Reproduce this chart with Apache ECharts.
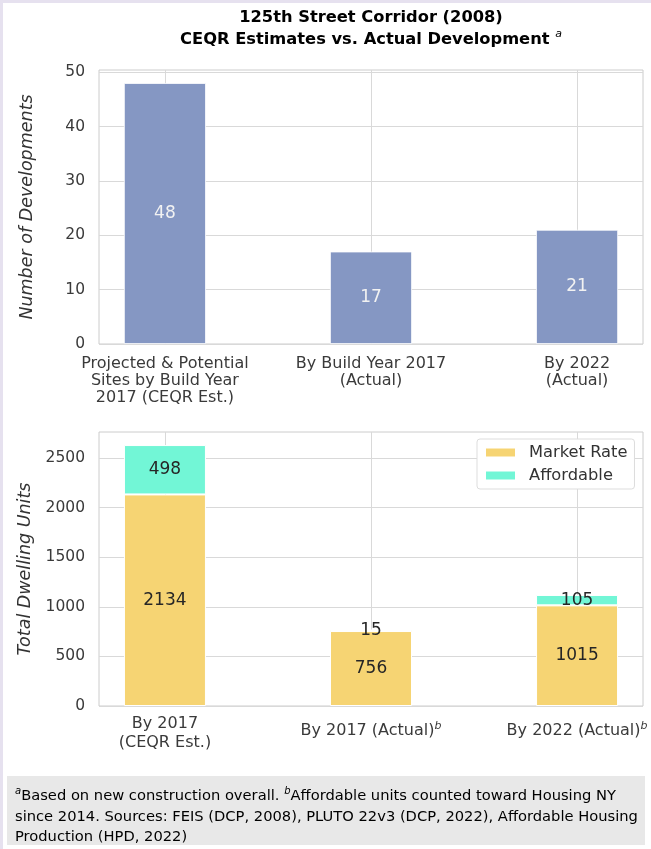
<!DOCTYPE html>
<html>
<head>
<meta charset="utf-8">
<script src="https://cdn.jsdelivr.net/npm/echarts@6/dist/echarts.min.js"></script>
<style>
  html, body { margin: 0; padding: 0; background: #fff; }
  #chart { width: 651px; height: 849px; }
</style>
</head>
<body>
<div id="chart"></div>
<script>
// 上图：开发项目数量
var devCategories = ['Projected & Potential\nSites by Build Year\n2017 (CEQR Est.)', 'By Build Year 2017\n(Actual)', 'By 2022\n(Actual)'];
var devCounts = [48, 17, 21];
var devTicks = [0, 10, 20, 30, 40, 50];

// 下图：住宅单元
var unitCategories = ['By 2017\n(CEQR Est.)', 'By 2017 (Actual)', 'By 2022 (Actual)'];
var unitCategorySup = ['', 'b', 'b'];
var marketRate = [2134, 756, 1015];
var affordable = [498, 15, 105];
var unitTicks = [0, 500, 1000, 1500, 2000, 2500];

var FONT = 'DejaVu Sans';
var positions = [0, 1, 2];

// 值在前、位置在后（堆叠作用在第一维）
function pairs(vals) {
  return vals.map(function (v, i) { return [v, positions[i]]; });
}

var xCommon = {
  type: 'value',
  min: -0.32,
  max: 2.32,
  axisLine: { show: false },
  axisTick: { show: false, customValues: positions },
  splitLine: { show: true, lineStyle: { color: '#d9d9d9', width: 1 } }
};

var option = {
  animation: false,
  backgroundColor: '#fff',
  textStyle: { fontFamily: FONT },
  grid: [
    { left: 99, right: 8, top: 70, height: 274, show: true, borderColor: '#cccccc', borderWidth: 1, backgroundColor: '#fff' },
    { left: 99, right: 8, top: 432, height: 274, show: true, borderColor: '#cccccc', borderWidth: 1, backgroundColor: '#fff' }
  ],
  xAxis: [
    Object.assign({}, xCommon, {
      gridIndex: 0,
      axisLabel: {
        customValues: positions,
        margin: 11,
        color: '#3a3a3a',
        fontSize: 16,
        lineHeight: 17,
        fontFamily: FONT,
        formatter: function (v) { return devCategories[Math.round(v)]; }
      }
    }),
    Object.assign({}, xCommon, {
      gridIndex: 1,
      axisLabel: {
        customValues: positions,
        margin: 8,
        color: '#3a3a3a',
        fontSize: 16,
        lineHeight: 19,
        fontFamily: FONT,
        formatter: function (v) {
          var i = Math.round(v);
          if (!unitCategorySup[i]) return unitCategories[i];
          return '{p|' + unitCategories[i] + '}{sup|' + unitCategorySup[i] + '}';
        },
        rich: {
          p: { fontSize: 16, color: '#3a3a3a', lineHeight: 34, verticalAlign: 'middle', fontFamily: FONT },
          sup: { fontSize: 11, color: '#3a3a3a', fontStyle: 'italic', lineHeight: 12, padding: [7, 0, 0, 0], verticalAlign: 'top', fontFamily: FONT }
        }
      }
    })
  ],
  yAxis: [
    {
      type: 'value', gridIndex: 0, min: 0, max: 50.4,
      name: 'Number of Developments', nameLocation: 'middle', nameGap: 63,
      nameTextStyle: { fontSize: 17.5, fontStyle: 'italic', color: '#333', fontFamily: FONT },
      axisLine: { show: false },
      axisTick: { show: false, customValues: devTicks },
      axisLabel: { customValues: devTicks, color: '#3a3a3a', fontSize: 15.5, margin: 14, fontFamily: FONT,
        formatter: function (v) { return String(v); } },
      splitLine: { show: true, lineStyle: { color: '#d9d9d9', width: 1 } }
    },
    {
      type: 'value', gridIndex: 1, min: 0, max: 2763.6,
      name: 'Total Dwelling Units', nameLocation: 'middle', nameGap: 63,
      nameTextStyle: { fontSize: 17.5, fontStyle: 'italic', color: '#333', fontFamily: FONT },
      axisLine: { show: false },
      axisTick: { show: false, customValues: unitTicks },
      axisLabel: { customValues: unitTicks, color: '#3a3a3a', fontSize: 15.5, margin: 14, fontFamily: FONT,
        formatter: function (v) { return String(v); } },
      splitLine: { show: true, lineStyle: { color: '#d9d9d9', width: 1 } }
    }
  ],
  legend: {
    data: ['Market Rate', 'Affordable'],
    orient: 'vertical',
    left: 477, top: 439,
    padding: [4, 7, 4, 7],
    itemWidth: 31, itemHeight: 10, itemGap: 4,
    icon: 'rect',
    backgroundColor: '#fff',
    borderColor: '#dddddd', borderWidth: 1, borderRadius: 3,
    textStyle: { fontSize: 16.3, color: '#333', fontFamily: FONT, lineHeight: 19, padding: [0, 0, 0, 8] }
  },
  series: [
    {
      name: 'Developments', type: 'bar', xAxisIndex: 0, yAxisIndex: 0,
      encode: { x: 1, y: 0 },
      data: pairs(devCounts), barWidth: 82,
      itemStyle: { color: '#8597c3', borderColor: '#fff', borderWidth: 0.8 },
      label: { show: true, position: 'inside', color: '#f2f2f2', fontSize: 17, fontFamily: FONT,
        formatter: function (p) { return p.value[0]; } }
    },
    {
      name: 'Market Rate', type: 'bar', xAxisIndex: 1, yAxisIndex: 1, stack: 'units',
      encode: { x: 1, y: 0 },
      data: pairs(marketRate), barWidth: 82,
      itemStyle: { color: '#f6d473', borderColor: '#fff', borderWidth: 1 },
      label: { show: true, position: 'inside', color: '#262626', fontSize: 17, fontFamily: FONT,
        formatter: function (p) { return p.value[0]; } }
    },
    {
      name: 'Affordable', type: 'bar', xAxisIndex: 1, yAxisIndex: 1, stack: 'units',
      encode: { x: 1, y: 0 },
      data: pairs(affordable), barWidth: 82,
      itemStyle: { color: '#72f6d6', borderColor: '#fff', borderWidth: 1 },
      label: { show: true, position: 'inside', color: '#262626', fontSize: 17, fontFamily: FONT,
        formatter: function (p) { return p.value[0]; } }
    }
  ],
  graphic: [
    // 外框淡紫色边
    { type: 'rect', left: 0, top: 0, shape: { width: 651, height: 3 }, style: { fill: '#e6e1ef' }, silent: true },
    { type: 'rect', left: 0, top: 0, shape: { width: 3, height: 849 }, style: { fill: '#e6e1ef' }, silent: true },
    // 标题
    {
      type: 'text', x: 371, y: 7,
      style: {
        text: '{t|125th Street Corridor (2008)}\n{t|CEQR Estimates vs. Actual Development }{sup|a}',
        align: 'center',
        rich: {
          t: { fontSize: 16.3, fontWeight: 'bold', color: '#2a2a2a', lineHeight: 22, fontFamily: FONT },
          sup: { fontSize: 11, fontStyle: 'italic', color: '#2a2a2a', lineHeight: 18, verticalAlign: 'top', fontFamily: FONT }
        }
      }
    },
    // 脚注
    { type: 'rect', left: 7, top: 776, shape: { width: 638, height: 69 }, style: { fill: '#e8e8e8' }, silent: true },
    {
      type: 'text', x: 15, y: 786,
      style: {
        text: '{sup|a}{t|Based on new construction overall. }{sup|b}{t|Affordable units counted toward Housing NY}\n{t|since 2014. Sources: FEIS (DCP, 2008), PLUTO 22v3 (DCP, 2022), Affordable Housing}\n{t|Production (HPD, 2022)}',
        rich: {
          t: { fontSize: 14.7, color: '#333', lineHeight: 20.5, fontFamily: FONT },
          sup: { fontSize: 10, fontStyle: 'italic', color: '#333', lineHeight: 12, verticalAlign: 'top', fontFamily: FONT }
        }
      }
    }
  ]
};

var myChart = echarts.init(document.getElementById('chart'));
myChart.setOption(option);
</script>
</body>
</html>
